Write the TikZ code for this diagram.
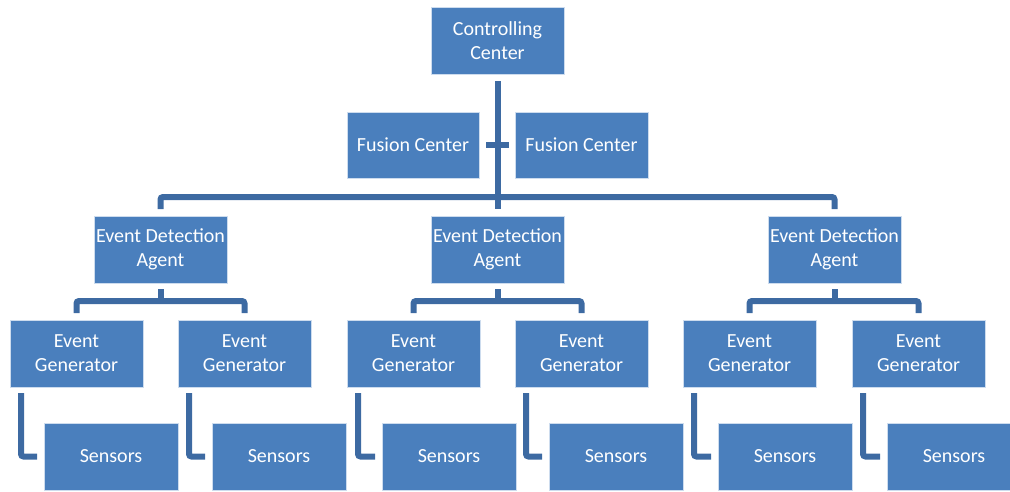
\documentclass[tikz,border=0pt]{standalone}
\usepackage{fontspec}
\setmainfont{Carlito}
\usetikzlibrary{calc}
\definecolor{boxfill}{RGB}{74,127,189}
\definecolor{boxline}{RGB}{205,220,238}
\definecolor{conncol}{RGB}{61,106,162}
\begin{document}
\begin{tikzpicture}[x=1pt,y=-1pt,
  box/.style={draw=boxline,line width=0.7pt,fill=boxfill,text=white,anchor=north west,
    inner sep=0pt,outer sep=0pt,align=center,font=\fontsize{20}{24}\selectfont,
    minimum width=133pt,minimum height=67pt},
  conn/.style={draw=conncol,line width=6pt,rounded corners=2.5pt}]
\useasboundingbox (0,0) rectangle (1010,491);
\clip (0,0) rectangle (1010,491);
% top level
\node[box] (cc) at (431,7) {Controlling\\Center};
\node[box,minimum width=132pt,minimum height=66pt] (fc1) at (347,112) {Fusion Center};
\node[box,minimum height=66pt] (fc2) at (515,112) {Fusion Center};
% agents
\node[box] (eda1) at (94,216) {Event Detection\\Agent};
\node[box] (eda2) at (431,216) {Event Detection\\Agent};
\node[box] (eda3) at (768,216) {Event Detection\\Agent};
% generators
\node[box] (eg1) at (10,320) {Event\\Generator};
\node[box] (eg2) at (178,320) {Event\\Generator};
\node[box] (eg3) at (347,320) {Event\\Generator};
\node[box] (eg4) at (515,320) {Event\\Generator};
\node[box] (eg5) at (683,320) {Event\\Generator};
\node[box] (eg6) at (852,320) {Event\\Generator};
% sensors
\node[box,minimum width=134pt] (s1) at (44,423) {Sensors};
\node[box,minimum width=134pt] (s2) at (212,423) {Sensors};
\node[box,minimum width=134pt] (s3) at (382,423) {Sensors};
\node[box,minimum width=134pt] (s4) at (549,423) {Sensors};
\node[box,minimum width=134pt] (s5) at (718,423) {Sensors};
\node[box,minimum width=134pt] (s6) at (887,423) {Sensors};
% connectors top
\draw[conn] ($(cc.south)+(0,7)$) -- ($(eda2.north)+(0,-7)$);
\draw[conn] ($(fc1.east)+(7,0)$) -- ($(fc2.west)+(-6,0)$);
\draw[conn] ($(eda1.north)+(0,-7)$) -- ($(eda1.north)+(0,-19)$) -| ($(eda3.north)+(0,-7)$);
% agent to generators
\foreach \a/\l/\r in {eda1/eg1/eg2, eda2/eg3/eg4, eda3/eg5/eg6}{
  \draw[conn] ($(\a.south)+(0,6)$) -- ($(\a.south)+(0,18)$);
  \draw[conn] ($(\l.north)+(0,-7)$) -- ($(\l.north)+(0,-19)$) -| ($(\r.north)+(0,-7)$);
}
% generators to sensors
\foreach \g/\s in {eg1/s1, eg2/s2, eg3/s3, eg4/s4, eg5/s5, eg6/s6}{
  \draw[conn] ($(\g.south west)+(11,6)$) |- ($(\s.west)+(-7,0)$);
}
\end{tikzpicture}
\end{document}
